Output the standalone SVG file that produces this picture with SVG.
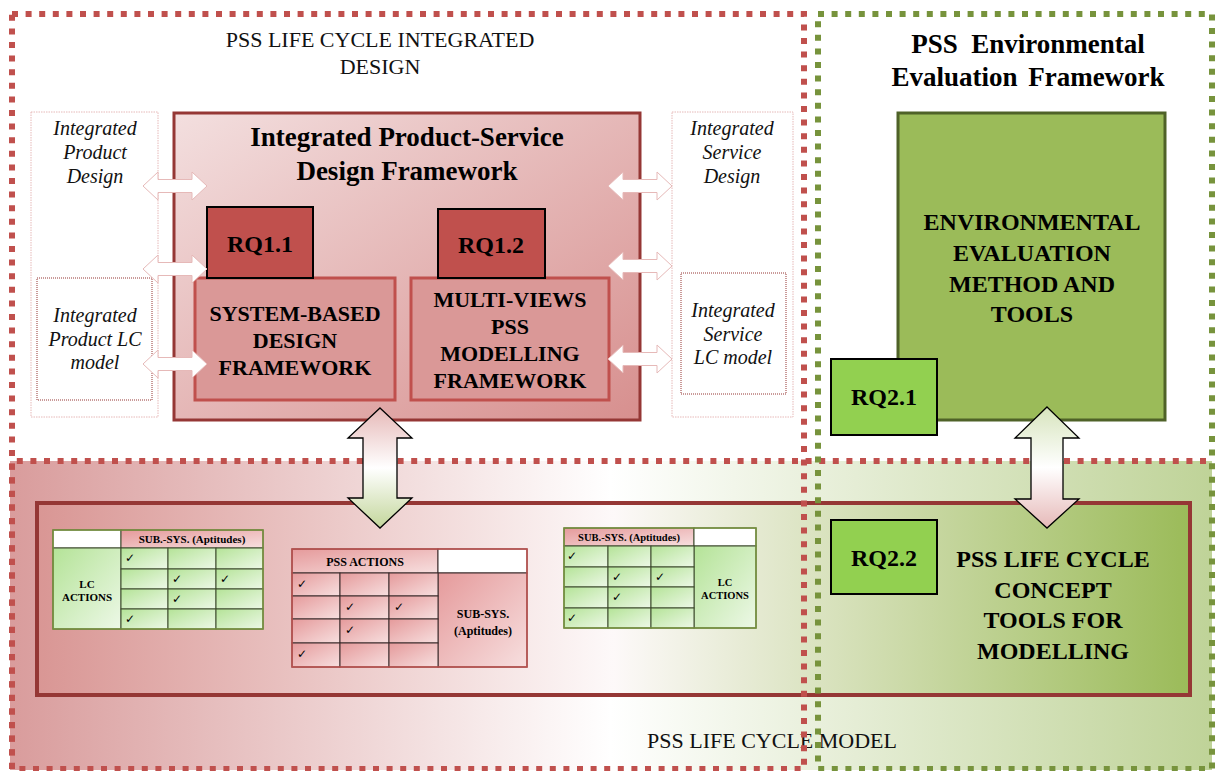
<svg xmlns="http://www.w3.org/2000/svg" width="1216" height="771" viewBox="0 0 1216 771">
<style>
.serif{font-family:"Liberation Serif","Times New Roman",serif;}
.b{font-family:"Liberation Serif","Times New Roman",serif;font-weight:bold;fill:#000;text-anchor:middle;}
.it{font-family:"Liberation Serif","Times New Roman",serif;font-style:italic;font-size:20px;fill:#111;text-anchor:middle;}
.chk{font-family:"DejaVu Sans",sans-serif;font-size:12px;fill:#000;}
.reddot{fill:none;stroke:#c0504d;stroke-width:6;stroke-dasharray:6 7.6;}
.greendot{fill:none;stroke:#77933c;stroke-width:6;stroke-dasharray:6 7.6;}
.hArrow{fill:#fff;stroke:#e6b9b8;stroke-width:1;}
.gc{fill:url(#greenCell);stroke:#3d4a2c;stroke-width:1;}
.pc{fill:url(#pinkCell);stroke:#3a2a2a;stroke-width:1;}
.rq1{fill:#c0504d;stroke:#000;stroke-width:2;}
.rq2{fill:#92d050;stroke:#000;stroke-width:2;}
.sub{fill:#da9897;stroke:#c0504d;stroke-width:3;}
</style>
<defs>
<linearGradient id="regionGrad" gradientUnits="userSpaceOnUse" x1="10" y1="0" x2="1212" y2="0">
<stop offset="0" stop-color="#d99c9c"/>
<stop offset="0.5" stop-color="#ffffff"/>
<stop offset="1" stop-color="#bfd398"/>
</linearGradient>
<linearGradient id="boxGrad" gradientUnits="userSpaceOnUse" x1="37" y1="0" x2="1190" y2="0">
<stop offset="0" stop-color="#d99694"/>
<stop offset="0.5" stop-color="#fdf9f9"/>
<stop offset="1" stop-color="#9bbb59"/>
</linearGradient>
<linearGradient id="mainGrad" x1="0" y1="0" x2="1" y2="1">
<stop offset="0" stop-color="#f3dfdf"/>
<stop offset="1" stop-color="#d78f8e"/>
</linearGradient>
<linearGradient id="greenCell" x1="0" y1="0" x2="1" y2="1">
<stop offset="0" stop-color="#b4e397"/>
<stop offset="1" stop-color="#edf8e7"/>
</linearGradient>
<linearGradient id="pinkCell" x1="0" y1="0" x2="1" y2="1">
<stop offset="0" stop-color="#e59a9b"/>
<stop offset="1" stop-color="#f7dfdf"/>
</linearGradient>
<linearGradient id="arrowPG" x1="0" y1="0" x2="0" y2="1">
<stop offset="0" stop-color="#e6b9b8"/>
<stop offset="0.5" stop-color="#ffffff"/>
<stop offset="1" stop-color="#c3d69b"/>
</linearGradient>
<linearGradient id="arrowGP" x1="0" y1="0" x2="0" y2="1">
<stop offset="0" stop-color="#d7e4bd"/>
<stop offset="0.5" stop-color="#ffffff"/>
<stop offset="1" stop-color="#e6b9b8"/>
</linearGradient>
</defs>

<rect width="1216" height="771" fill="#fff"/>

<!-- bottom region -->
<g id="lifecycle-model-region">
<rect x="10" y="461" width="1202" height="309" fill="url(#regionGrad)"/>
<text class="serif" x="647" y="748" font-size="22" fill="#111">PSS LIFE CYCLE MODEL</text>
</g>

<g id="lifecycle-box">
<rect x="37" y="503" width="1153" height="192" fill="url(#boxGrad)" stroke="#953735" stroke-width="4"/>
</g>

<!-- table 1 -->
<g id="table-lc-left">
<rect x="53" y="530" width="68" height="18" fill="#fff" stroke="#3d4a2c" stroke-width="1"/>
<rect x="121" y="530" width="142" height="18" fill="url(#pinkCell)" stroke="#3d4a2c" stroke-width="1"/>
<rect class="gc" x="53" y="548" width="68" height="81"/>
<rect class="gc" x="121" y="548" width="47" height="21"/><rect class="gc" x="168" y="548" width="48" height="21"/><rect class="gc" x="216" y="548" width="47" height="21"/>
<rect class="gc" x="121" y="569" width="47" height="20"/><rect class="gc" x="168" y="569" width="48" height="20"/><rect class="gc" x="216" y="569" width="47" height="20"/>
<rect class="gc" x="121" y="589" width="47" height="20"/><rect class="gc" x="168" y="589" width="48" height="20"/><rect class="gc" x="216" y="589" width="47" height="20"/>
<rect class="gc" x="121" y="609" width="47" height="20"/><rect class="gc" x="168" y="609" width="48" height="20"/><rect class="gc" x="216" y="609" width="47" height="20"/>
<rect x="53" y="530" width="210" height="99" fill="none" stroke="#77933c" stroke-width="1.5"/>
<text class="b" x="192" y="543" font-size="11">SUB.-SYS. (Aptitudes)</text>
<text class="b" x="87" y="588" font-size="11">LC</text>
<text class="b" x="87" y="601" font-size="11">ACTIONS</text>
<text class="chk" x="125" y="562">✓</text>
<text class="chk" x="172" y="583">✓</text><text class="chk" x="220" y="583">✓</text>
<text class="chk" x="172" y="603">✓</text>
<text class="chk" x="125" y="623">✓</text>
</g>

<!-- table 2 -->
<g id="table-pss-actions">
<rect class="pc" x="292" y="549" width="146" height="24"/>
<rect x="438" y="549" width="89" height="24" fill="#fff" stroke="#3a2a2a" stroke-width="1"/>
<rect class="pc" x="438" y="573" width="89" height="94"/>
<rect class="pc" x="292" y="573" width="48" height="23"/><rect class="pc" x="340" y="573" width="49" height="23"/><rect class="pc" x="389" y="573" width="49" height="23"/>
<rect class="pc" x="292" y="596" width="48" height="23"/><rect class="pc" x="340" y="596" width="49" height="23"/><rect class="pc" x="389" y="596" width="49" height="23"/>
<rect class="pc" x="292" y="619" width="48" height="24"/><rect class="pc" x="340" y="619" width="49" height="24"/><rect class="pc" x="389" y="619" width="49" height="24"/>
<rect class="pc" x="292" y="643" width="48" height="24"/><rect class="pc" x="340" y="643" width="49" height="24"/><rect class="pc" x="389" y="643" width="49" height="24"/>
<rect x="292" y="549" width="235" height="118" fill="none" stroke="#c0504d" stroke-width="1.5"/>
<text class="b" x="365" y="566" font-size="12">PSS ACTIONS</text>
<text class="b" x="483" y="618" font-size="12">SUB-SYS.</text>
<text class="b" x="483" y="635" font-size="12">(Aptitudes)</text>
<text class="chk" x="297" y="588">✓</text>
<text class="chk" x="345" y="611">✓</text><text class="chk" x="394" y="611">✓</text>
<text class="chk" x="345" y="634">✓</text>
<text class="chk" x="297" y="658">✓</text>
</g>

<!-- table 3 -->
<g id="table-lc-right">
<rect x="564" y="528" width="130" height="18" fill="url(#pinkCell)" stroke="#3d4a2c" stroke-width="1"/>
<rect x="694" y="528" width="62" height="18" fill="#fff" stroke="#3d4a2c" stroke-width="1"/>
<rect class="gc" x="694" y="546" width="62" height="82"/>
<rect class="gc" x="564" y="546" width="44" height="21"/><rect class="gc" x="608" y="546" width="43" height="21"/><rect class="gc" x="651" y="546" width="43" height="21"/>
<rect class="gc" x="564" y="567" width="44" height="20"/><rect class="gc" x="608" y="567" width="43" height="20"/><rect class="gc" x="651" y="567" width="43" height="20"/>
<rect class="gc" x="564" y="587" width="44" height="21"/><rect class="gc" x="608" y="587" width="43" height="21"/><rect class="gc" x="651" y="587" width="43" height="21"/>
<rect class="gc" x="564" y="608" width="44" height="20"/><rect class="gc" x="608" y="608" width="43" height="20"/><rect class="gc" x="651" y="608" width="43" height="20"/>
<rect x="564" y="528" width="192" height="100" fill="none" stroke="#77933c" stroke-width="1.5"/>
<text class="b" x="629" y="541" font-size="10.5">SUB.-SYS. (Aptitudes)</text>
<text class="b" x="725" y="586" font-size="10.5">LC</text>
<text class="b" x="725" y="599" font-size="10.5">ACTIONS</text>
<text class="chk" x="567" y="560">✓</text>
<text class="chk" x="612" y="581">✓</text><text class="chk" x="655" y="581">✓</text>
<text class="chk" x="612" y="601">✓</text>
<text class="chk" x="567" y="622">✓</text>
</g>

<!-- dotted frames -->
<g id="frames">
<rect class="reddot" x="12" y="14" width="792" height="755"/>
<path class="reddot" d="M12,769 V461 H1212"/>
<rect class="greendot" x="818" y="14" width="394" height="755"/>
</g>

<!-- top-left title -->
<g id="title-integrated-design">
<text class="serif" x="380" y="47" font-size="22" text-anchor="middle" fill="#111">PSS LIFE CYCLE INTEGRATED</text>
<text class="serif" x="380" y="74" font-size="22" text-anchor="middle" fill="#111">DESIGN</text>
</g>

<g id="integrated-product-design">
<rect x="31" y="112" width="127" height="305" fill="#fff" stroke="#e6b9b8" stroke-width="1" stroke-dasharray="1.5 1"/>
<text class="it" x="95" y="135">Integrated</text>
<text class="it" x="95" y="159">Product</text>
<text class="it" x="95" y="183">Design</text>
</g>
<g id="integrated-product-lc-model">
<rect x="37" y="278" width="115" height="122" fill="#fff" stroke="#953735" stroke-width="1" stroke-dasharray="1 1"/>
<text class="it" x="95" y="322">Integrated</text>
<text class="it" x="95" y="346">Product LC</text>
<text class="it" x="95" y="369">model</text>
</g>

<g id="integrated-service-design">
<rect x="672" y="112" width="121" height="305" fill="#fff" stroke="#e6b9b8" stroke-width="1" stroke-dasharray="1.5 1"/>
<text class="it" x="732" y="135">Integrated</text>
<text class="it" x="732" y="159">Service</text>
<text class="it" x="732" y="183">Design</text>
</g>
<g id="integrated-service-lc-model">
<rect x="681" y="273" width="105" height="121" fill="#fff" stroke="#953735" stroke-width="1" stroke-dasharray="1 1"/>
<text class="it" x="733" y="317">Integrated</text>
<text class="it" x="733" y="341">Service</text>
<text class="it" x="733" y="364">LC model</text>
</g>

<g id="integrated-ps-design-framework">
<rect x="174" y="113" width="466" height="307" fill="url(#mainGrad)" stroke="#953735" stroke-width="3"/>
<text class="b" x="407" y="146" font-size="27">Integrated Product-Service</text>
<text class="b" x="407" y="180" font-size="27">Design Framework</text>
</g>

<g id="system-based-design">
<rect class="sub" x="195" y="278" width="200" height="122"/>
<text class="b" x="295" y="321" font-size="22">SYSTEM-BASED</text>
<text class="b" x="295" y="348" font-size="22">DESIGN</text>
<text class="b" x="295" y="375" font-size="22">FRAMEWORK</text>
</g>
<g id="rq1-1">
<rect class="rq1" x="207" y="207" width="106" height="71"/>
<text class="b" x="260" y="252" font-size="24">RQ1.1</text>
</g>

<g id="multi-views-modelling">
<rect class="sub" x="411" y="278" width="198" height="122"/>
<text class="b" x="510" y="307" font-size="22">MULTI-VIEWS</text>
<text class="b" x="510" y="334" font-size="22">PSS</text>
<text class="b" x="510" y="361" font-size="22">MODELLING</text>
<text class="b" x="510" y="388" font-size="22">FRAMEWORK</text>
</g>
<g id="rq1-2">
<rect class="rq1" x="438" y="209" width="107" height="69"/>
<text class="b" x="491" y="253" font-size="24">RQ1.2</text>
</g>

<g id="title-env-framework">
<text class="b" x="1028" y="53" font-size="27" xml:space="preserve">PSS  Environmental</text>
<text class="b" x="1028" y="86" font-size="27" word-spacing="4">Evaluation Framework</text>
</g>

<g id="env-evaluation-method">
<rect x="898" y="113" width="267" height="307" fill="#9bbb59" stroke="#4f6228" stroke-width="3"/>
<text class="b" x="1032" y="230" font-size="24">ENVIRONMENTAL</text>
<text class="b" x="1032" y="261" font-size="24">EVALUATION</text>
<text class="b" x="1032" y="292" font-size="24">METHOD AND</text>
<text class="b" x="1032" y="322" font-size="24">TOOLS</text>
</g>
<g id="rq2-1">
<rect class="rq2" x="831" y="359" width="106" height="76"/>
<text class="b" x="884" y="405" font-size="24">RQ2.1</text>
</g>

<g id="lc-concept-tools">
<text class="b" x="1053" y="567" font-size="24">PSS LIFE CYCLE</text>
<text class="b" x="1053" y="598" font-size="24">CONCEPT</text>
<text class="b" x="1053" y="628" font-size="24">TOOLS FOR</text>
<text class="b" x="1053" y="659" font-size="24">MODELLING</text>
</g>
<g id="rq2-2">
<rect class="rq2" x="831" y="520" width="106" height="74"/>
<text class="b" x="884" y="566" font-size="24">RQ2.2</text>
</g>

<!-- connectors -->
<g id="connectors">
<path class="hArrow" d="M143,186 L158,172 L158,179.5 L192,179.5 L192,172 L207,186 L192,200 L192,192.5 L158,192.5 L158,200 Z"/>
<path class="hArrow" d="M143,269 L158,255 L158,262.5 L192,262.5 L192,255 L207,269 L192,283 L192,275.5 L158,275.5 L158,283 Z"/>
<path class="hArrow" d="M143,364 L158,350 L158,357.5 L192,357.5 L192,350 L207,364 L192,378 L192,370.5 L158,370.5 L158,378 Z"/>
<path class="hArrow" d="M608,186 L623,172 L623,179.5 L657,179.5 L657,172 L672,186 L657,200 L657,192.5 L623,192.5 L623,200 Z"/>
<path class="hArrow" d="M608,266 L623,252 L623,259.5 L657,259.5 L657,252 L672,266 L657,280 L657,272.5 L623,272.5 L623,280 Z"/>
<path class="hArrow" d="M608,359 L623,345 L623,352.5 L657,352.5 L657,345 L672,359 L657,373 L657,365.5 L623,365.5 L623,373 Z"/>
<path d="M380,408 L412,438 L397,438 L397,498 L412,498 L380,528 L348,498 L363,498 L363,438 L348,438 Z" fill="url(#arrowPG)" stroke="#000" stroke-width="1.3"/>
<path d="M1047,407 L1079,438 L1063,438 L1063,499 L1079,499 L1047,528 L1015,499 L1031,499 L1031,438 L1015,438 Z" fill="url(#arrowGP)" stroke="#000" stroke-width="1.3"/>
</g>
</svg>
